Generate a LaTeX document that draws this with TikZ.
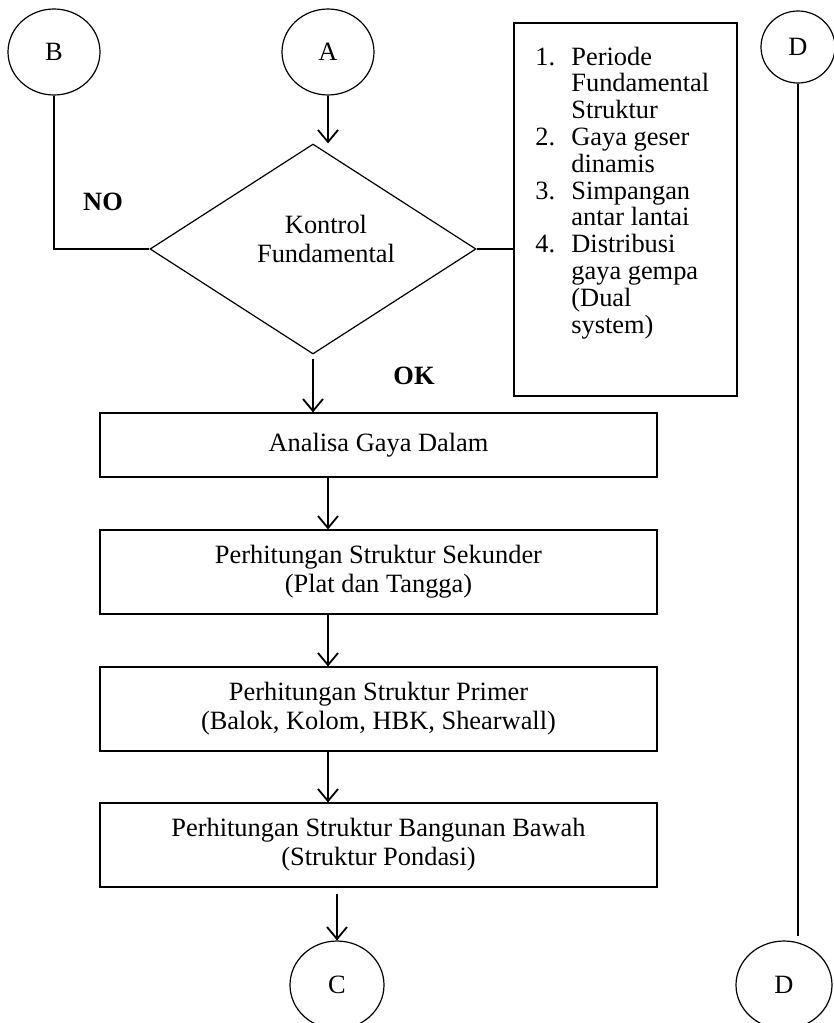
\documentclass[tikz,border=0pt]{standalone}
\usepackage{fontspec}
\setmainfont{Liberation Serif}
\usetikzlibrary{shapes.geometric,arrows.meta}

\begin{document}
\begin{tikzpicture}[x=0.5pt, y=-0.5pt,
		every node/.style={font=\fontsize{13.2}{14.4}\selectfont},
		konektor/.style={ellipse, draw, line width=0.6pt, inner sep=0pt, minimum width=46pt, minimum height=43pt},
		kotak/.style={rectangle, draw, line width=0.6pt, minimum width=278.5pt, align=center},
		panah/.style={line width=0.9pt, -{Straight Barb[length=6pt,width=10pt]}},
		garis/.style={line width=0.7pt}]
		\useasboundingbox (0,0) rectangle (834,1023);

		% penghubung atas
		\node[konektor] (B) at (54,52) {B};
		\node[konektor] (A) at (328,52) {A};
		\node[konektor, minimum width=37pt, minimum height=36pt] (Datas) at (798,47) {D};

		% kontrol
		\node[diamond, draw, line width=0.6pt, inner sep=0pt, minimum width=163pt, minimum height=105pt] (kontrol) at (313,249) {};
		\node[align=center] (kontrolteks) at (326,239) {Kontrol\\Fundamental};
		\node (no) at (103,202) {\textbf{NO}};
		\node (ok) at (414,376) {\textbf{OK}};

		% daftar kontrol
		\node[draw, line width=0.6pt, minimum width=111.5pt, minimum height=186.5pt] (info) at (625.5,209.5) {};
		\node[anchor=north west, inner sep=0pt] (daftar) at (535,46) {\fontsize{13.2}{13.4}\selectfont
			\begin{tabular}{@{}p{18pt}@{}l@{}}
				1. & Periode\\
				   & Fundamental\\
				   & Struktur\\
				2. & Gaya geser\\
				   & dinamis\\
				3. & Simpangan\\
				   & antar lantai\\
				4. & Distribusi\\
				   & gaya gempa\\
				   & (Dual\\
				   & system)
			\end{tabular}};

		% tahapan
		\node[kotak, minimum height=32pt] (analisa) at (378.5,445) {Analisa Gaya Dalam};
		\node[kotak, minimum height=42pt] (sekunder) at (378.5,572) {Perhitungan Struktur Sekunder\\(Plat dan Tangga)};
		\node[kotak, minimum height=42pt] (primer) at (378.5,709) {Perhitungan Struktur Primer\\(Balok, Kolom, HBK, Shearwall)};
		\node[kotak, minimum height=42pt] (bawah) at (378.5,845) {Perhitungan Struktur Bangunan Bawah\\(Struktur Pondasi)};

		% penghubung bawah
		\node[konektor, minimum width=47pt, minimum height=44pt] (C) at (337,985) {C};
		\node[konektor, minimum width=48pt, minimum height=44pt] (Dbawah) at (784,985) {D};

		% garis dan panah
		\draw[panah] (A) -- (A.south |- kontrol.north);
		\draw[panah, shorten <=2pt] (kontrol.south) -- (kontrol.south |- analisa.north);
		\draw[panah] (analisa.south -| A) -- (sekunder.north -| A);
		\draw[panah] (sekunder.south -| A) -- (primer.north -| A);
		\draw[panah] (primer.south -| A) -- (bawah.north -| A);
		\draw[panah, shorten <=3pt] (bawah.south -| C) -- (C);
		\draw[garis] (B) |- (kontrol.west);
		\draw[garis] (kontrol.east) -- (kontrol.east -| info.west);
		\draw[garis, shorten >=2pt] (Datas) -- (Datas.south |- Dbawah.north);
\end{tikzpicture}
\end{document}
